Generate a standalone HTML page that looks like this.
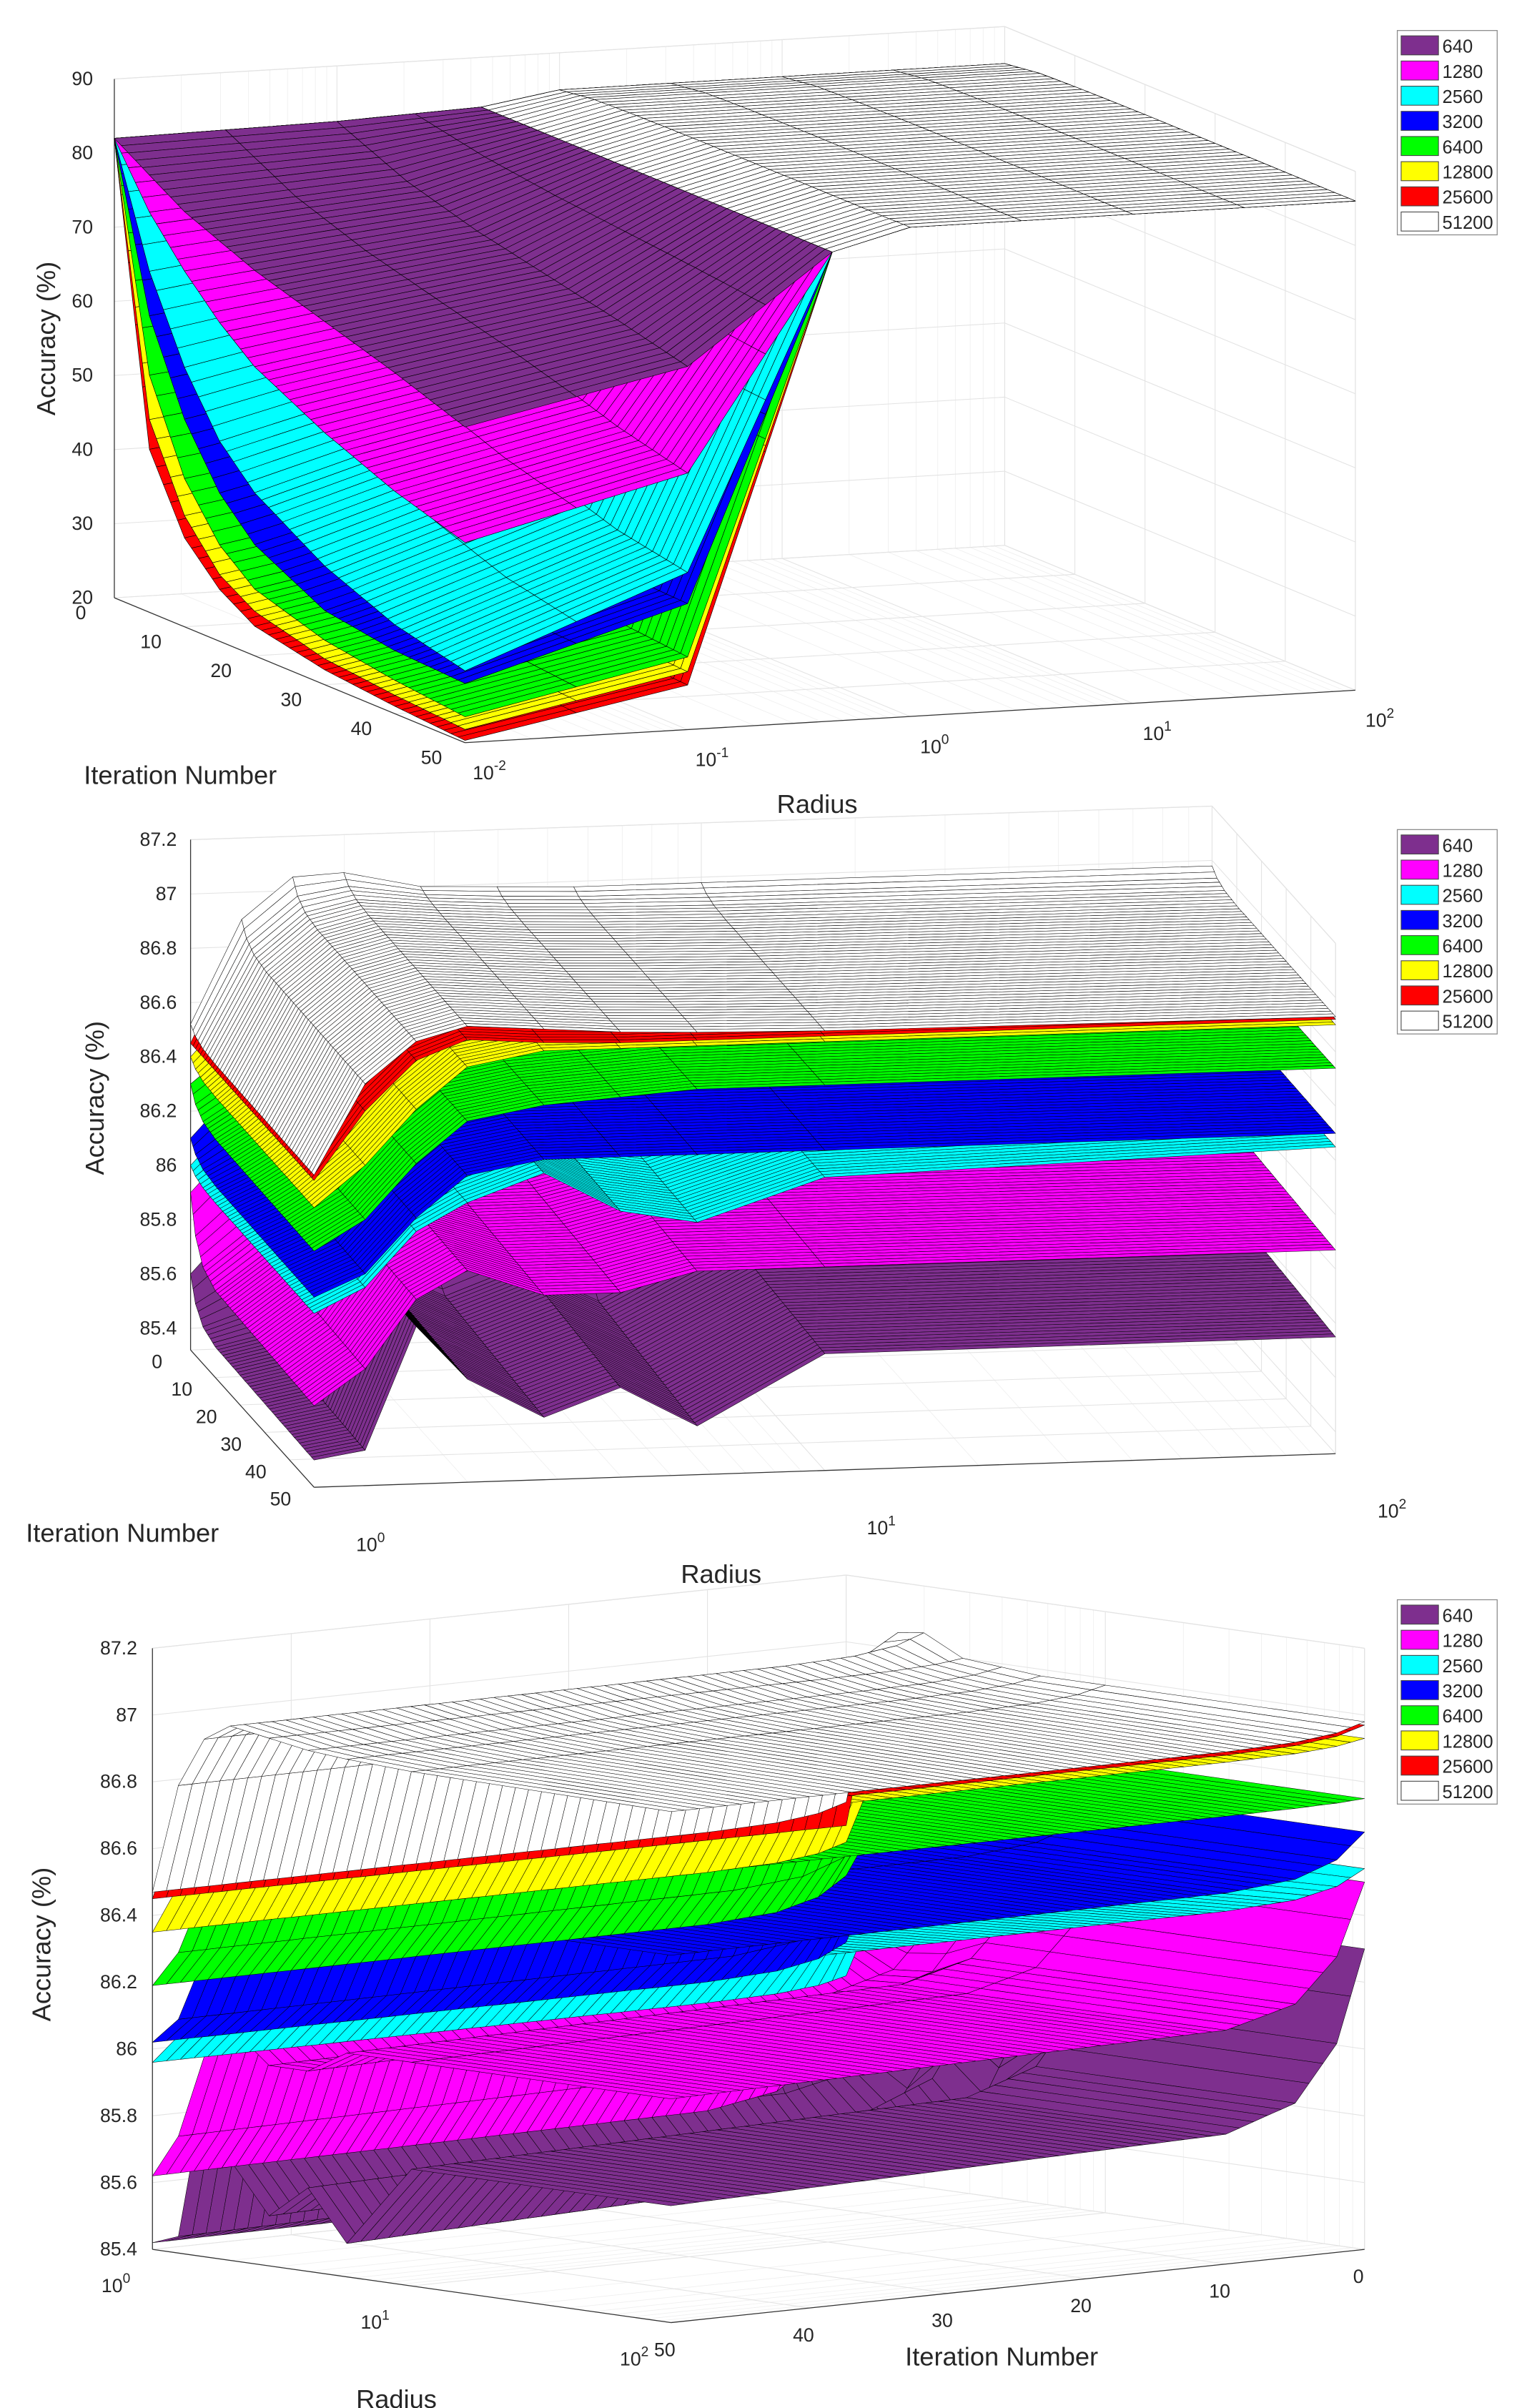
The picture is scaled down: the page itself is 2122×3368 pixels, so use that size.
<!DOCTYPE html>
<html><head><meta charset="utf-8"><title>Accuracy surfaces</title>
<style>
html,body{margin:0;padding:0;background:#fff;}
svg{display:block;font-family:"Liberation Sans",Arial,sans-serif;}
text{fill:#262626;}
</style></head>
<body>
<svg id="chart" xmlns="http://www.w3.org/2000/svg" width="2122" height="3368" viewBox="0 0 995 1579" preserveAspectRatio="none">
<rect x="0" y="0" width="995" height="1579" fill="#fff"/>
<g id="p1"></g>
<g id="p2"></g>
<g id="p3"></g>

<text x="36" y="222" font-size="17" text-anchor="middle" transform="rotate(-90 36 222)">Accuracy (%)</text>
<text x="55" y="514" font-size="17">Iteration Number</text>
<text x="536" y="533" font-size="17" text-anchor="middle">Radius</text>

<text x="68" y="720" font-size="17" text-anchor="middle" transform="rotate(-90 68 720)">Accuracy (%)</text>
<text x="17" y="1011" font-size="17">Iteration Number</text>
<text x="473" y="1038" font-size="17" text-anchor="middle">Radius</text>

<text x="33" y="1275" font-size="17" text-anchor="middle" transform="rotate(-90 33 1275)">Accuracy (%)</text>
<text x="260" y="1579" font-size="17" text-anchor="middle">Radius</text>
<text x="657" y="1551" font-size="17" text-anchor="middle">Iteration Number</text>

<g id="legends"></g>
</svg>
<script>
// ---------- shared series ----------
const seriesNames = ['640','1280','2560','3200','6400','12800','25600','51200'];
const seriesColors = ['#7E2F8E','#FF00FF','#00FFFF','#0000FF','#00FF00','#FFFF00','#FF0000','#FFFFFF'];

// ---------- panel 1 data (radius 1e-2..1e2, log10) ----------
const iterNodes1 = [0,5,10,15,20,30,40,50];
const lrNodes1 = [-2,-1,-0.35,0,1,2];
const backEdge1 = [82,82.5,83.3,85,85,85];
const leftEdge640 = [82,79,76,74,72,69,66,62.6];
const leftEdge1280 = [82,74,68,63,59,54,50,47];
const leftEdge2560 = [82,66,55,47,42,36,32,29.7];
const leftEdge3200 = [82,60,48,40,35,30,28.5,28];
const leftEdge6400 = [82,52,40,33,29,26,24.5,23.5];
const leftEdge12800 = [82,46,35,29,26,23.5,22.5,21.8];
const leftEdge25600 = [82,42,32,27,24,22,21,20.3];
const leftEdge51200 = [82,43,33,27.5,24.5,22.3,21.2,20.6];
const frontEdge640 = [62.6,69,83.3,86,86,86];
const frontEdge1280 = [47,54.6,83.3,86,86,86];
const frontEdge2560 = [29.7,41.2,83.3,86,86,86];
const frontEdge3200 = [28,37,83.3,86,86,86];
const frontEdge6400 = [23.5,29.8,83.3,86,86,86];
const frontEdge12800 = [21.8,27.8,83.3,86,86,86];
const frontEdge25600 = [20.3,26,83.3,86,86,86];
const frontEdge51200 = [20.6,26.5,83.3,86,86,86];
const zTicks1 = [20,30,40,50,60,70,80,90];
const iterTicks = [0,10,20,30,40,50];
const radTicks1 = [-2,-1,0,1,2];

// ---------- panels 2 & 3 data (radius 1..1e2, log10) ----------
const lrNodes2 = [0,0.1,0.2,0.3,0.45,0.6,0.75,1,2];
const iterShapeNodes = [0,2,5,10,50];
const iterShapeW = [0,0.5,0.8,0.93,1];
const front640 = [85.42,85.45,85.9,85.7,85.55,85.65,85.5,85.75,85.75];
const front1280 = [85.62,85.75,86.0,86.1,86.0,86.0,86.07,86.07,86.07];
const front2560 = [85.96,86.05,86.25,86.35,86.45,86.3,86.25,86.4,86.45];
const front3200 = [86.02,86.1,86.3,86.45,86.5,86.5,86.5,86.5,86.5];
const front6400 = [86.19,86.3,86.5,86.65,86.7,86.72,86.74,86.74,86.74];
const front12800 = [86.35,86.5,86.7,86.85,86.9,86.9,86.9,86.9,86.9];
const front25600 = [86.45,86.7,86.88,86.95,86.93,86.92,86.92,86.92,86.92];
const front51200 = [86.47,86.8,86.95,87.0,86.98,86.96,86.95,86.94,86.93];
const back640 = [85.6,85.8,85.95,86.05,86.15,86.3,86.3,86.3,86.3];
const back1280 = [85.9,86.1,86.25,86.35,86.45,86.5,86.5,86.5,86.5];
const back2560 = [86.0,86.2,86.35,86.45,86.5,86.54,86.54,86.54,86.54];
const back3200 = [86.1,86.3,86.45,86.55,86.6,86.65,86.65,86.65,86.65];
const back6400 = [86.3,86.45,86.6,86.68,86.72,86.75,86.75,86.75,86.75];
const back12800 = [86.4,86.6,86.8,86.88,86.9,86.93,86.93,86.93,86.93];
const back25600 = [86.45,86.85,87.0,87.03,86.98,86.97,86.97,86.97,86.97];
const back51200 = [86.52,86.9,87.05,87.06,87.0,86.99,86.98,86.98,86.98];
const zTicks2 = [85.4,85.6,85.8,86,86.2,86.4,86.6,86.8,87,87.2];
const radTicks2 = [0,1,2];

const leftEdges1 = [leftEdge640,leftEdge1280,leftEdge2560,leftEdge3200,leftEdge6400,leftEdge12800,leftEdge25600,leftEdge51200];
const frontEdges1 = [frontEdge640,frontEdge1280,frontEdge2560,frontEdge3200,frontEdge6400,frontEdge12800,frontEdge25600,frontEdge51200];
const fronts2 = [front640,front1280,front2560,front3200,front6400,front12800,front25600,front51200];
const backs2 = [back640,back1280,back2560,back3200,back6400,back12800,back25600,back51200];

const NS = 'http://www.w3.org/2000/svg';
function mk(parent, tag, attrs){
  const e = document.createElementNS(NS, tag);
  for (const k in attrs) e.setAttribute(k, attrs[k]);
  parent.appendChild(e);
  return e;
}
function interp(nodes, vals, x){
  if (x <= nodes[0]) return vals[0];
  for (let i = 0; i < nodes.length - 1; i++){
    if (x <= nodes[i+1]){
      const t = (x - nodes[i]) / (nodes[i+1] - nodes[i]);
      return vals[i] + t * (vals[i+1] - vals[i]);
    }
  }
  return vals[vals.length-1];
}

// projections (orthographic 3D views)
function proj1(lr, it, a){ return [75 + (lr+2)*146 + it*4.6, 392 - (lr+2)*8.6 + it*1.9 - (a-20)*4.86]; }
function proj2(lr, it, a){ return [125 + lr*335 + it*1.62, 871 - lr*11 + it*1.8 - (a-85.4)*178]; }
function proj3(lr, it, a){ return [100 + lr*170 + (50-it)*9.1, 1475 + lr*24 - (50-it)*0.96 - (a-85.4)*219]; }

function surf1(s, it, lr){
  const B = interp(lrNodes1, backEdge1, lr), B0 = backEdge1[0];
  const L = interp(iterNodes1, leftEdges1[s], it);
  const F = interp(lrNodes1, frontEdges1[s], lr), F0 = frontEdges1[s][0];
  return B + (L - B0) * (F - B) / (F0 - B0);
}
function surf2(s, it, lr){
  const bk = interp(lrNodes2, backs2[s], lr);
  const fr = interp(lrNodes2, fronts2[s], lr);
  return bk + (fr - bk) * interp(iterShapeNodes, iterShapeW, it);
}

function line3(g, proj, p, q, color, w, name){
  const A = proj(p[0],p[1],p[2]), B = proj(q[0],q[1],q[2]);
  const l = mk(g, 'line', {x1:A[0].toFixed(2), y1:A[1].toFixed(2), x2:B[0].toFixed(2), y2:B[1].toFixed(2), stroke:color, 'stroke-width':w});
  
  
}

function drawSurface(g, proj, fn, s, lrs, sw){
  const sg = mk(g, 'g', {fill: seriesColors[s], stroke:'#000', 'stroke-width': sw, 'stroke-linejoin':'round'});
  
  
  for (let it = 0; it < 50; it++){
    for (let k = 0; k < lrs.length - 1; k++){
      const l0 = lrs[k], l1 = lrs[k+1];
      const pts = [proj(l0,it,fn(s,it,l0)), proj(l1,it,fn(s,it,l1)), proj(l1,it+1,fn(s,it+1,l1)), proj(l0,it+1,fn(s,it+1,l0))];
      const p = mk(sg, 'polygon', {points: pts.map(q => q[0].toFixed(1)+','+q[1].toFixed(1)).join(' ')});
      
      
    }
  }
}

function tickText(g, x, y, txt, sup, anchor, name){
  const t = mk(g, 'text', {x:x.toFixed(1), y:y.toFixed(1), 'font-size':12.5, 'text-anchor':anchor});
  t.textContent = txt;
  if (sup !== null){
    const ts = mk(t, 'tspan', {dy:-6, 'font-size':9});
    ts.textContent = sup;
  }
  
  
}

const minorLog = [2,3,4,5,6,7,8,9].map(v => Math.log10(v));
const GRID = '#e3e3e3', AX = '#333';

// ---------- panel 1 ----------
(function(){
  const g = document.getElementById('p1');
  const zmin = 20, zmax = 90;
  for (let d = -2; d <= 2; d++){
    line3(g, proj1, [d,0,zmin], [d,0,zmax], GRID, 0.5, 'p1-back-grid');
    line3(g, proj1, [d,0,zmin], [d,50,zmin], GRID, 0.5, 'p1-floor-grid');
    if (d < 2) minorLog.forEach(m => {
      line3(g, proj1, [d+m,0,zmin], [d+m,50,zmin], '#efefef', 0.4, 'p1-floor-minor');
      line3(g, proj1, [d+m,0,zmin], [d+m,0,zmax], '#efefef', 0.4, 'p1-back-minor');
    });
  }
  zTicks1.forEach(z => {
    line3(g, proj1, [-2,0,z], [2,0,z], GRID, 0.5, 'p1-back-grid');
    line3(g, proj1, [2,0,z], [2,50,z], GRID, 0.5, 'p1-side-grid');
  });
  iterTicks.forEach(it => {
    line3(g, proj1, [-2,it,zmin], [2,it,zmin], GRID, 0.5, 'p1-floor-grid');
    line3(g, proj1, [2,it,zmin], [2,it,zmax], GRID, 0.5, 'p1-side-grid');
  });
  line3(g, proj1, [-2,0,zmax], [2,0,zmax], GRID, 0.6, 'p1-box-edge');
  line3(g, proj1, [2,0,zmax], [2,50,zmax], GRID, 0.6, 'p1-box-edge');
  line3(g, proj1, [2,50,zmin], [2,50,zmax], GRID, 0.6, 'p1-box-edge');
  line3(g, proj1, [-2,0,zmin], [-2,0,zmax], AX, 0.6, 'p1-z-axis');
  line3(g, proj1, [-2,0,zmin], [-2,50,zmin], AX, 0.6, 'p1-iteration-axis');
  line3(g, proj1, [-2,50,zmin], [2,50,zmin], AX, 0.6, 'p1-radius-axis');
  for (let s = 7; s >= 0; s--) drawSurface(g, proj1, surf1, s, [-2,-1.5,-1,-0.65,-0.35], 0.3);
  for (let s = 0; s < 8; s++) drawSurface(g, proj1, surf1, s, [-0.35,0,0.5,1,1.5,2], 0.3);
  zTicks1.forEach(z => { const p = proj1(-2,0,z); tickText(g, p[0]-14, p[1]+4, String(z), null, 'end', 'p1-z-tick-label'); });
  iterTicks.forEach(it => { const p = proj1(-2,it,zmin); tickText(g, p[0]-22, p[1]+14, String(it), null, 'middle', 'p1-iteration-tick-label'); });
  radTicks1.forEach(r => { const p = proj1(r,50,zmin); tickText(g, p[0]+16, p[1]+24, '10', String(r), 'middle', 'p1-radius-tick-label'); });
})();

// ---------- panel 2 ----------
(function(){
  const g = document.getElementById('p2');
  const zmin = 85.32, zmax = 87.2;
  for (let d = 0; d <= 2; d++){
    line3(g, proj2, [d,0,zmin], [d,0,zmax], GRID, 0.5, 'p2-back-grid');
    line3(g, proj2, [d,0,zmin], [d,50,zmin], GRID, 0.5, 'p2-floor-grid');
    if (d < 2) minorLog.forEach(m => {
      line3(g, proj2, [d+m,0,zmin], [d+m,50,zmin], '#efefef', 0.4, 'p2-floor-minor');
      line3(g, proj2, [d+m,0,zmin], [d+m,0,zmax], '#efefef', 0.4, 'p2-back-minor');
    });
  }
  zTicks2.forEach(z => {
    line3(g, proj2, [0,0,z], [2,0,z], GRID, 0.5, 'p2-back-grid');
    line3(g, proj2, [2,0,z], [2,50,z], GRID, 0.5, 'p2-side-grid');
  });
  iterTicks.forEach(it => {
    line3(g, proj2, [0,it,zmin], [2,it,zmin], GRID, 0.5, 'p2-floor-grid');
    line3(g, proj2, [2,it,zmin], [2,it,zmax], GRID, 0.5, 'p2-side-grid');
  });
  line3(g, proj2, [0,0,zmax], [2,0,zmax], GRID, 0.6, 'p2-box-edge');
  line3(g, proj2, [2,0,zmax], [2,50,zmax], GRID, 0.6, 'p2-box-edge');
  line3(g, proj2, [2,50,zmin], [2,50,zmax], GRID, 0.6, 'p2-box-edge');
  line3(g, proj2, [0,0,zmin], [0,0,zmax], AX, 0.6, 'p2-z-axis');
  line3(g, proj2, [0,0,zmin], [0,50,zmin], AX, 0.6, 'p2-iteration-axis');
  line3(g, proj2, [0,50,zmin], [2,50,zmin], AX, 0.6, 'p2-radius-axis');
  for (let s = 0; s < 8; s++) drawSurface(g, proj2, surf2, s, lrNodes2, 0.25);
  zTicks2.forEach(z => { const p = proj2(0,0,z); tickText(g, p[0]-9, p[1]+4, String(z), null, 'end', 'p2-z-tick-label'); });
  iterTicks.forEach(it => { const p = proj2(0,it,zmin); tickText(g, p[0]-22, p[1]+12, String(it), null, 'middle', 'p2-iteration-tick-label'); });
  radTicks2.forEach(r => { const p = proj2(r,50,zmin); tickText(g, p[0]+37, p[1]+42, '10', String(r), 'middle', 'p2-radius-tick-label'); });
})();

// ---------- panel 3 ----------
(function(){
  const g = document.getElementById('p3');
  const zmin = 85.4, zmax = 87.2;
  for (let d = 0; d <= 2; d++){
    line3(g, proj3, [d,0,zmin], [d,0,zmax], GRID, 0.5, 'p3-back-grid');
    line3(g, proj3, [d,0,zmin], [d,50,zmin], GRID, 0.5, 'p3-floor-grid');
    if (d < 2) minorLog.forEach(m => {
      line3(g, proj3, [d+m,0,zmin], [d+m,50,zmin], '#efefef', 0.4, 'p3-floor-minor');
      line3(g, proj3, [d+m,0,zmin], [d+m,0,zmax], '#efefef', 0.4, 'p3-back-minor');
    });
  }
  zTicks2.forEach(z => {
    line3(g, proj3, [0,0,z], [2,0,z], GRID, 0.5, 'p3-back-grid');
    line3(g, proj3, [0,0,z], [0,50,z], GRID, 0.5, 'p3-side-grid');
  });
  iterTicks.forEach(it => {
    line3(g, proj3, [0,it,zmin], [2,it,zmin], GRID, 0.5, 'p3-floor-grid');
    line3(g, proj3, [0,it,zmin], [0,it,zmax], GRID, 0.5, 'p3-side-grid');
  });
  line3(g, proj3, [0,0,zmax], [2,0,zmax], GRID, 0.6, 'p3-box-edge');
  line3(g, proj3, [0,0,zmax], [0,50,zmax], GRID, 0.6, 'p3-box-edge');
  line3(g, proj3, [2,0,zmin], [2,0,zmax], GRID, 0.6, 'p3-box-edge');
  line3(g, proj3, [0,50,zmin], [0,50,zmax], AX, 0.6, 'p3-z-axis');
  line3(g, proj3, [0,50,zmin], [2,50,zmin], AX, 0.6, 'p3-radius-axis');
  line3(g, proj3, [2,0,zmin], [2,50,zmin], AX, 0.6, 'p3-iteration-axis');
  for (let s = 0; s < 8; s++) drawSurface(g, proj3, surf2, s, lrNodes2, 0.25);
  zTicks2.forEach(z => { const p = proj3(0,50,z); tickText(g, p[0]-10, p[1]+4, String(z), null, 'end', 'p3-z-tick-label'); });
  iterTicks.forEach(it => { const p = proj3(2,it,zmin); tickText(g, p[0]-4, p[1]+22, String(it), null, 'middle', 'p3-iteration-tick-label'); });
  radTicks2.forEach(r => { const p = proj3(r,50,zmin); tickText(g, p[0]-24, p[1]+28, '10', String(r), 'middle', 'p3-radius-tick-label'); });
})();

// ---------- legends ----------
(function(){
  const lg = document.getElementById('legends');
  const tops = [20, 544, 1049];
  tops.forEach((top, pi) => {
    const box = mk(lg, 'g', {});
    
    
    const r = mk(box, 'rect', {x:916.5, y:top, width:65.5, height:134, fill:'#fff', stroke:'#8c8c8c', 'stroke-width':0.6});
    
    
    for (let s = 0; s < 8; s++){
      const y = top + 3.5 + s*16.5;
      const e = mk(box, 'g', {});
      
      
      const sw = mk(e, 'rect', {x:919, y:y, width:24.5, height:12.5, fill:seriesColors[s], stroke:'#444', 'stroke-width':0.5});
      
      
      const t = mk(e, 'text', {x:946, y:y+11, 'font-size':12, fill:'#000'});
      t.textContent = seriesNames[s];
      
      
    }
  });
})();
</script>
</body></html>
